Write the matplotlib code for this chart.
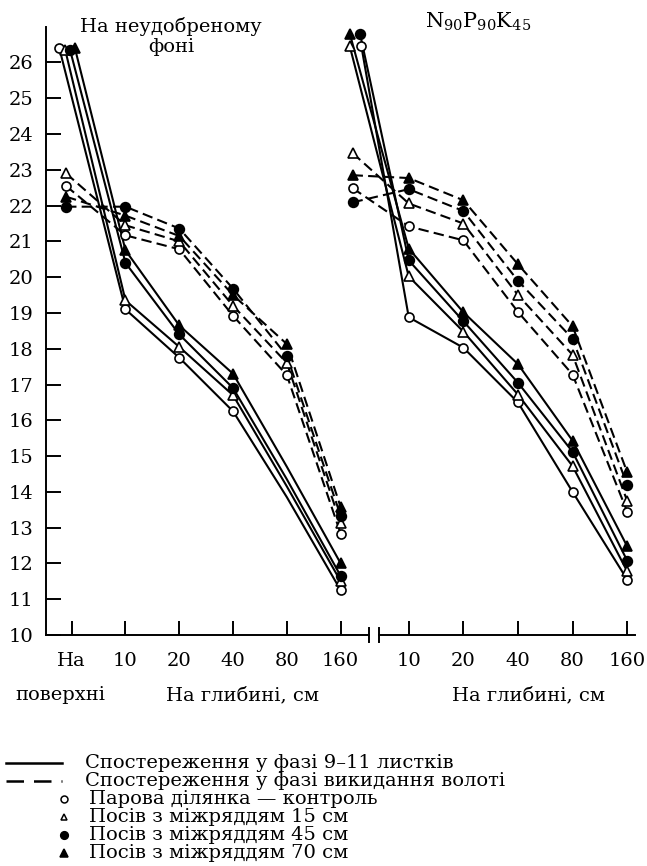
import numpy as np
import matplotlib
matplotlib.use("Agg")
import matplotlib.pyplot as plt
from matplotlib.lines import Line2D

plt.rcParams['font.family'] = ['DejaVu Serif']
plt.rcParams['mathtext.fontset'] = 'dejavuserif'

W, H = 647, 866
FS = 14

depth_labels = ["На", "10", "20", "40", "80", "160"]
series_names = ["Парова ділянка — контроль", "Посів з міжряддям 15 см",
                "Посів з міжряддям 45 см", "Посів з міжряддям 70 см"]
phase_names = ["Спостереження у фазі 9–11 листків",
               "Спостереження у фазі викидання волоті"]

# rows: control, 15 cm, 45 cm, 70 cm; columns: surface, 10, 20, 40, 80, 160 cm
left_leaves = [[26.40, 19.10, 17.75, 16.25, 13.85, 11.25],
               [26.35, 19.35, 18.05, 16.70, 14.15, 11.50],
               [26.35, 20.40, 18.40, 16.90, 14.35, 11.65],
               [26.40, 20.75, 18.65, 17.30, 14.70, 12.00]]
left_panicle = [[22.55, 21.17, 20.78, 18.92, 17.26, 12.83],
                [22.90, 21.45, 21.00, 19.20, 17.60, 13.12],
                [21.97, 21.97, 21.36, 19.68, 17.80, 13.33],
                [22.25, 21.72, 21.15, 19.50, 18.13, 13.57]]
right_leaves = [[26.45, 18.88, 18.03, 16.50, 14.00, 11.55],
                [26.45, 20.02, 18.48, 16.72, 14.72, 11.78],
                [26.80, 20.47, 18.77, 17.05, 15.12, 12.08],
                [26.80, 20.80, 19.02, 17.57, 15.43, 12.48]]
right_panicle = [[22.49, 21.42, 21.03, 19.03, 17.28, 13.45],
                 [23.47, 22.06, 21.50, 19.50, 17.83, 13.75],
                 [22.09, 22.46, 21.85, 19.90, 18.28, 14.20],
                 [22.85, 22.77, 22.15, 20.36, 18.63, 14.55]]

left_x = np.arange(6) * 1.0
right_x = 5.25 + 1.015 * np.arange(6)

markers = [dict(marker='o', mfc='white', ms=6.5),
           dict(marker='^', mfc='white', ms=6.5),
           dict(marker='o', mfc='black', ms=7),
           dict(marker='^', mfc='black', ms=7.5)]
dash = (5, 2.5)


def px(x, y):
    return x / W, 1 - y / H


fig = plt.figure(figsize=(W / 100, H / 100), dpi=100)
x0, y_top = 45.7, 26.7
ax = fig.add_axes([x0 / W, (H - 635) / H, (634.7 - x0) / W, (635 - y_top) / H])
ax.set_xlim(-0.483, 10.465)
ax.set_ylim(10, 27)


def draw(xs, data, ls, surf_shift, skip=None):
    for i, vals in enumerate(data):
        xx = np.array(xs, dtype=float)
        xx[0] += surf_shift[i]
        if ls == 'solid':
            ax.plot(xx, vals, color='black', lw=1.5, zorder=2)
        else:
            ax.plot(xx, vals, color='black', lw=1.5, ls='--', dashes=dash, zorder=2)
        idx = [k for k in range(6) if k != skip]
        ax.plot(xx[idx], np.array(vals)[idx], ls='none', mec='black', mew=1.2,
                zorder=3, clip_on=False, **markers[i])


draw(left_x, left_leaves, 'solid', [-0.23, -0.12, -0.03, 0.06], skip=4)
draw(left_x, left_panicle, 'dashed', [-0.105] * 4)
draw(right_x, right_leaves, 'solid', [0.135, -0.08, 0.11, -0.08])
draw(right_x, right_panicle, 'dashed', [-0.03] * 4)

# axes styling
for s in ['top', 'right', 'bottom']:
    ax.spines[s].set_visible(False)
ax.spines['left'].set_linewidth(1.4)
ax.set_yticks(np.arange(10, 27))
ax.tick_params(axis='y', direction='in', length=10.5, width=1.4, pad=9, labelsize=FS)
ax.set_xticks(list(left_x) + list(right_x[1:]))
ax.set_xticklabels(depth_labels + depth_labels[1:])
ax.tick_params(axis='x', direction='in', length=10, width=1.4, pad=12.5, labelsize=FS)

# broken x axis line
tr = ax.get_xaxis_transform()
b1, b2 = 5.53, 5.72
ax.plot([-0.483, b1], [0, 0], color='black', lw=1.4, transform=tr, clip_on=False)
ax.plot([b2, 10.465], [0, 0], color='black', lw=1.4, transform=tr, clip_on=False)
for b in (b1, b2):
    ax.plot([b, b], [-0.012, 0.012], color='black', lw=1.4, transform=tr, clip_on=False)

# titles and axis texts
fig.text(*px(171, 17), "На неудобреному\nфоні", ha='center', va='top',
         fontsize=FS, linespacing=1.15)
fig.text(*px(478, 22), r'$\mathrm{N_{90}P_{90}K_{45}}$', ha='center', va='center',
         fontsize=FS + 1)
fig.text(*px(60, 695), "поверхні", ha='center', va='center', fontsize=FS)
fig.text(*px(243, 695), "На глибині, см", ha='center', va='center', fontsize=FS)
fig.text(*px(528, 695), "На глибині, см", ha='center', va='center', fontsize=FS)

# legend
rows = [763, 781, 799, 817, 835, 853]
fig.add_artist(Line2D([6 / W, 62 / W], [1 - rows[0] / H] * 2, color='black', lw=1.8))
fig.add_artist(Line2D([6 / W, 62 / W], [1 - rows[1] / H] * 2, color='black', lw=1.8,
                      ls='--', dashes=(7, 4)))
for k in range(2):
    fig.text(*px(85, rows[k]), phase_names[k], ha='left', va='center', fontsize=FS)
for i in range(4):
    m = dict(markers[i])
    m['ms'] = m['ms'] - 1.5
    fig.add_artist(Line2D([64 / W], [1 - rows[i + 2] / H], ls='none', mec='black',
                          mew=1.1, **m))
    fig.text(*px(89, rows[i + 2]), series_names[i], ha='left', va='center', fontsize=FS)

fig.savefig("out.png", dpi=100)
